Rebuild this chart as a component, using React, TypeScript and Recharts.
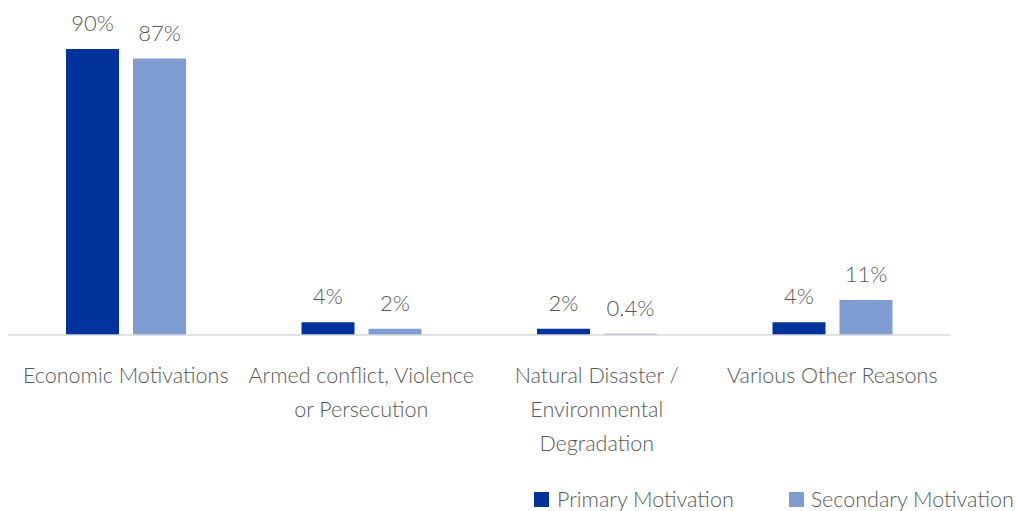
import React from 'react';
import { BarChart, Bar, XAxis, YAxis, LabelList } from 'recharts';

const categories = [
  'Economic Motivations',
  'Armed conflict, Violence or Persecution',
  'Natural Disaster / Environmental Degradation',
  'Various Other Reasons',
];
const tickLines: string[][] = [
  ['Economic Motivations'],
  ['Armed conflict, Violence', 'or Persecution'],
  ['Natural Disaster /', 'Environmental', 'Degradation'],
  ['Various Other Reasons'],
];
const primary = [90, 4, 2, 4];
const secondary = [87, 2, 0.4, 11];

const PRIMARY_COLOR = '#00339b';
const SECONDARY_COLOR = '#7f9cd3';
const TEXT = '#595959';
const FONT = 'Lato, sans-serif';

const data = categories.map((name, i) => ({
  name,
  primary: primary[i],
  secondary: secondary[i],
}));

const CategoryTick = (props: any) => {
  const { x, y, index } = props;
  const lines = tickLines[index] || [];
  return (
    <text x={x} y={y} textAnchor="middle" fill={TEXT} fontSize={21.5} fontFamily={FONT} fontWeight={300}>
      {lines.map((l, i) => (
        <tspan key={i} x={x} y={y + 40 + i * 34}>
          {l}
        </tspan>
      ))}
    </text>
  );
};

const pct = (v: any) => `${v}%`;

export default function App() {
  return (
    <div style={{ position: 'absolute', left: 0, top: 0, width: 1016, height: 511, background: '#fff' }}>
      <BarChart
        width={1016}
        height={511}
        data={data}
        margin={{ top: 49, right: 66, left: 8, bottom: 0 }}
        barSize={53}
        barGap={14}
      >
        <YAxis hide domain={[0, 90]} />
        <XAxis
          dataKey="name"
          height={176}
          axisLine={{ stroke: '#d9d9d9', strokeWidth: 1.5 }}
          tickLine={false}
          interval={0}
          tick={<CategoryTick />}
        />
        <Bar dataKey="primary" fill={PRIMARY_COLOR} isAnimationActive={false}>
          <LabelList
            dataKey="primary"
            position="top"
            offset={18}
            formatter={pct}
            fill={TEXT}
            fontSize={22}
            fontFamily={FONT}
            fontWeight={300}
          />
        </Bar>
        <Bar dataKey="secondary" fill={SECONDARY_COLOR} isAnimationActive={false}>
          <LabelList
            dataKey="secondary"
            position="top"
            offset={18}
            formatter={pct}
            fill={TEXT}
            fontSize={22}
            fontFamily={FONT}
            fontWeight={300}
          />
        </Bar>
      </BarChart>
      <div
        style={{
          position: 'absolute',
          top: 486,
          left: 534,
          display: 'flex',
          alignItems: 'center',
          fontFamily: FONT,
          fontWeight: 300,
          fontSize: 21.5,
          color: TEXT,
          whiteSpace: 'nowrap',
        }}
      >
        <span style={{ width: 15, height: 15, background: PRIMARY_COLOR, display: 'inline-block', marginRight: 8 }} />
        <span style={{ marginRight: 55 }}>Primary Motivation</span>
        <span style={{ width: 15, height: 15, background: SECONDARY_COLOR, display: 'inline-block', marginRight: 7 }} />
        <span>Secondary Motivation</span>
      </div>
    </div>
  );
}
